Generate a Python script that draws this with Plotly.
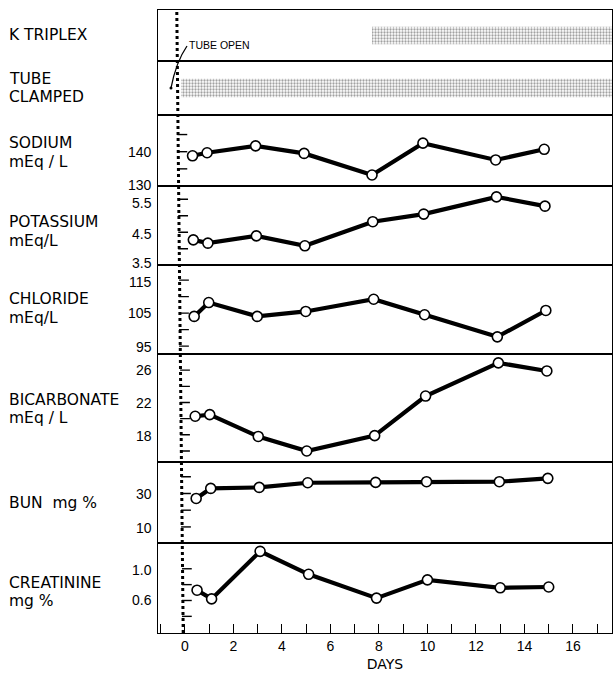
import plotly.graph_objects as go

# ---------------- data ----------------
days = [0.5, 1.1, 3.1, 5.1, 7.9, 10.0, 13.0, 15.0]
sodium = [138.8, 139.7, 141.7, 139.5, 133.2, 142.5, 137.6, 140.7]
potassium = [4.27, 4.17, 4.39, 4.09, 4.82, 5.05, 5.57, 5.29]
chloride = [104.0, 108.2, 104.0, 105.5, 109.2, 104.5, 97.8, 105.8]
bicarbonate = [20.3, 20.5, 17.8, 16.0, 17.9, 22.8, 26.9, 25.9]
bun = [27.0, 33.0, 33.6, 36.4, 36.6, 37.0, 37.0, 39.0]
creatinine = [0.73, 0.62, 1.22, 0.93, 0.63, 0.86, 0.76, 0.77]

k_triplex_start = 7.95
tube_clamped_start = 0.05

sodium_ticks = [135, 140, 145]
sodium_labels = [130, 140]
potassium_ticks = [4.0, 4.5, 5.0, 5.5]
potassium_labels = [3.5, 4.5, 5.5]
chloride_ticks = [95, 100, 105, 110, 115]
chloride_labels = [95, 105, 115]
bicarbonate_ticks = [16, 18, 20, 22, 24, 26]
bicarbonate_labels = [18, 22, 26]
bun_ticks = [10, 20, 30, 40]
bun_labels = [10, 30]
creatinine_ticks = [0.4, 0.6, 0.8, 1.0]
creatinine_labels = [0.6, 1.0]

day_labels = [0, 2, 4, 6, 8, 10, 12, 14, 16]

# ---------------- geometry (pixels) ----------------
W, H = 616, 678
L, R, T, B = 158, 612, 10, 633
bounds = [10, 61, 115, 186, 265.3, 354, 462.3, 543, 633]
xrange_days = [-1.11, 17.61]
PX_PER_DAY = (R - L) / (xrange_days[1] - xrange_days[0])
SKEW = 0.0103  # scanned page is slightly skewed: px shift left per px upward

def px_x(x):
    return (x - L) / (R - L)

def px_y(y):
    return (B - y) / (B - T)

FONT = "DejaVu Sans"
NUMFONT = "Liberation Sans"
fig = go.Figure()

panels = [
    # (label lines, label offset px, values, yrange, tick marks, tick labels, fmt, per-label pixel nudges)
    (["K TRIPLEX"], 0, None, [0, 1], [], [], None, []),
    (["TUBE", "CLAMPED"], 0, None, [0, 1], [], [], None, []),
    (["SODIUM", "mEq / L"], 2, sodium, [130, 150.7], sodium_ticks, sodium_labels, "{:.0f}", [1, 0]),
    (["POTASSIUM", "mEq/L"], 6, potassium, [3.5, 5.9], potassium_ticks, potassium_labels, "{:.1f}", [2, -2, -4]),
    (["CHLORIDE", "mEq/L"], -1, chloride, [92.6, 119.5], chloride_ticks, chloride_labels, "{:.0f}", [-1, 0, -1.5]),
    (["BICARBONATE", "mEq / L"], 1, bicarbonate, [14.6, 28.0], bicarbonate_ticks, bicarbonate_labels, "{:.0f}", [-1, -1, 0]),
    (["BUN  mg %"], 0, bun, [0.4, 48.6], bun_ticks, bun_labels, "{:.0f}", [-1, -1]),
    (["CREATININE", "mg %"], 4, creatinine, [0.19, 1.325], creatinine_ticks, creatinine_labels, "{:.1f}", [0, -1]),
]

layout = {}
annotations = []
n = len(panels)
for i, (lab, loff, vals, yr, tks, tlabs, fmt, nudges) in enumerate(panels):
    k = i + 1
    xa = "xaxis" if k == 1 else f"xaxis{k}"
    ya = "yaxis" if k == 1 else f"yaxis{k}"
    xr = "x" if k == 1 else f"x{k}"
    yr_ = "y" if k == 1 else f"y{k}"
    top, bot = bounds[i], bounds[i + 1]
    ymid = (top + bot) / 2
    off_px = -SKEW * (588 - ymid)
    rng = [xrange_days[0] - off_px / PX_PER_DAY, xrange_days[1] - off_px / PX_PER_DAY]
    dom = [px_y(bot), px_y(top)]
    is_bottom = (k == n)
    xdict = dict(domain=[0, 1], anchor=yr_, range=rng, showline=True, mirror=True,
                 linecolor="black", linewidth=1.3, showgrid=False, zeroline=False,
                 showticklabels=is_bottom, fixedrange=True)
    if is_bottom:
        xdict.update(ticks="inside", tickvals=day_labels, ticklen=4, tickwidth=1.3, tickcolor="black",
                     ticktext=[str(d) for d in day_labels],
                     tickfont=dict(family=NUMFONT, size=14, color="black"),
                     minor=dict(dtick=1, tick0=0, ticks="inside", ticklen=9, tickwidth=1.3, tickcolor="black"),
                     title=dict(text="DAYS", font=dict(family=FONT, size=14, color="black"), standoff=6))
    else:
        xdict.update(ticks="")
    layout[xa] = xdict
    layout[ya] = dict(domain=dom, anchor=xr, range=yr, showline=True, mirror=True, linecolor="black",
                      linewidth=1.3, showgrid=False, zeroline=False, ticks="", showticklabels=False,
                      fixedrange=True)

    # value labels left of the frame, placed on the panel's own y scale
    for v, dy in zip(tlabs, nudges):
        annotations.append(dict(text=fmt.format(v), xref="paper", yref=yr_, x=px_x(154), y=v,
                                xanchor="right", yanchor="middle", yshift=dy, showarrow=False,
                                font=dict(family=NUMFONT, size=14, color="black")))

    # tick marks just right of the dotted line
    if tks:
        fig.add_trace(go.Scatter(x=[0.08] * len(tks), y=tks, xaxis=xr, yaxis=yr_, mode="markers",
                                 marker=dict(symbol="line-ew", size=7, line=dict(width=1.4, color="black")),
                                 hoverinfo="skip", showlegend=False))
    if vals is not None:
        fig.add_trace(go.Scatter(x=days, y=vals, xaxis=xr, yaxis=yr_, mode="lines+markers",
                                 line=dict(color="black", width=4.2),
                                 marker=dict(size=10, color="white", line=dict(color="black", width=1.6)),
                                 showlegend=False))

    # left side labels
    mid = ymid + loff
    nl = len(lab)
    spacing = 18.5
    for j, t in enumerate(lab):
        yy = mid + (j - (nl - 1) / 2) * spacing
        annotations.append(dict(text=t, xref="paper", yref="paper", x=px_x(7), y=px_y(yy),
                                xanchor="left", yanchor="middle", showarrow=False,
                                font=dict(family=FONT, size=15.5, color="black")))

# shaded bars (stippled)
pattern = dict(shape=".", fgcolor="#444444", bgcolor="white", size=3, solidity=0.45)
fig.add_trace(go.Bar(y=[0.5], x=[30], base=[k_triplex_start], orientation="h",
                     width=0.34, xaxis="x", yaxis="y", showlegend=False,
                     marker=dict(color="#bbbbbb", pattern=pattern, line=dict(width=0))))
fig.add_trace(go.Bar(y=[0.5], x=[30], base=[tube_clamped_start], orientation="h",
                     width=0.34, xaxis="x2", yaxis="y2", showlegend=False,
                     marker=dict(color="#bbbbbb", pattern=pattern, line=dict(width=0))))

# TUBE OPEN dotted line (follows the page skew)
shapes = [dict(type="line", xref="paper", yref="paper",
               x0=px_x(183.2), x1=px_x(183.2 - SKEW * (B - T)), y0=0, y1=1,
               line=dict(color="black", width=3, dash="dot"))]
# leader curve for TUBE OPEN label
p0 = (px_x(187), px_y(46))
p1 = (px_x(176), px_y(62))
p2 = (px_x(171), px_y(88))
shapes.append(dict(type="path", xref="paper", yref="paper",
                   path=f"M {p0[0]},{p0[1]} Q {p1[0]},{p1[1]} {p2[0]},{p2[1]}",
                   line=dict(color="black", width=1.3)))
shapes.append(dict(type="circle", xref="paper", yref="paper",
                   x0=px_x(169.5), x1=px_x(172.5), y0=px_y(89.5), y1=px_y(86.5),
                   fillcolor="black", line=dict(color="black", width=0)))
annotations.append(dict(text="TUBE OPEN", xref="paper", yref="paper", x=px_x(187), y=px_y(45),
                        xanchor="left", yanchor="middle", showarrow=False,
                        font=dict(family=NUMFONT, size=10.5, color="black")))

fig.update_layout(width=W, height=H, autosize=False,
                  margin=dict(l=L, r=W - R, t=T, b=H - B),
                  paper_bgcolor="white", plot_bgcolor="white",
                  annotations=annotations, shapes=shapes, barmode="overlay",
                  **layout)

fig.write_html("out.html", config={"displayModeBar": False},
               post_script="document.body.style.margin='0px';")
